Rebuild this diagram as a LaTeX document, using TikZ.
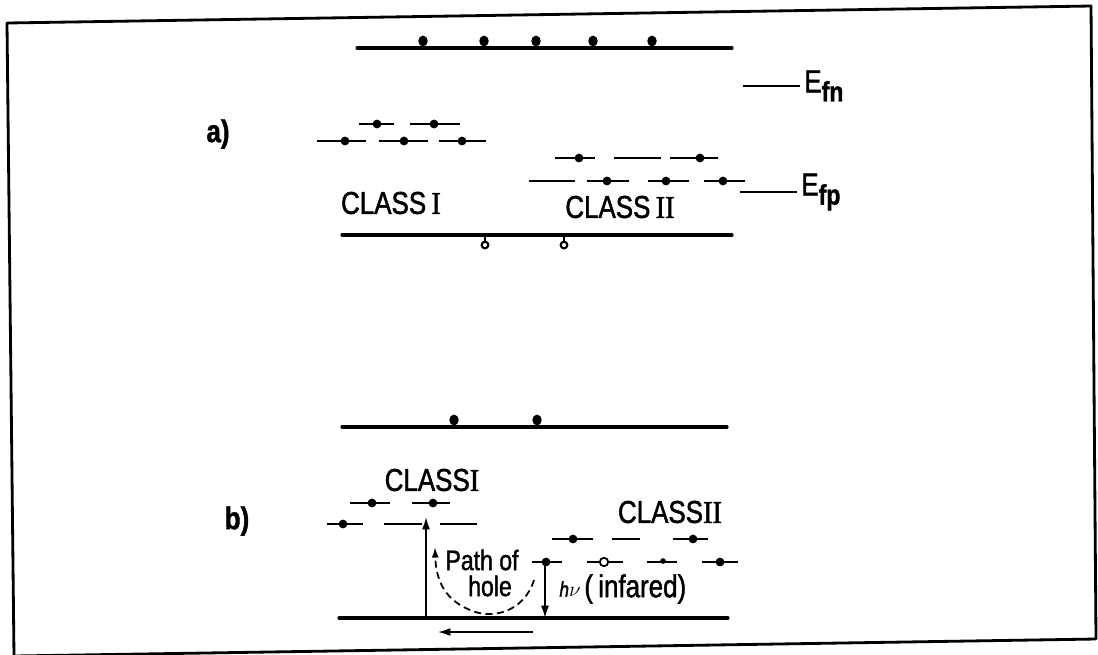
\documentclass[tikz,border=0pt]{standalone}
\usepackage{fontspec}
\setmainfont[FakeStretch=0.82, FakeBold=1.4]{Liberation Sans}
\newfontfamily\numfont[FakeStretch=0.9, FakeBold=1.4]{Liberation Serif}
\usetikzlibrary{arrows.meta}

\newcommand{\rnum}[1]{{\numfont #1}}

\begin{document}
\begin{tikzpicture}[x=0.02cm, y=-0.02cm,
  frame/.style={line width=1.6pt, line join=round},
  band/.style={line width=1.8pt, line cap=round},
  lvl/.style={line width=1.2pt},
  tick/.style={line width=1pt},
  lbl/.style={font=\fontsize{18}{20}\selectfont, inner sep=0pt},
  small/.style={font=\fontsize{16}{18}\selectfont, inner sep=0pt},
  arr/.style={line width=0.9pt, -{Latex[length=7pt, width=4.5pt]}},
  holepath/.style={line width=1pt, dash pattern=on 4pt off 2.5pt, -{Latex[length=6pt, width=4pt]}}
]
\useasboundingbox (0,0) rectangle (1098,654);

% outer frame
\draw[frame] (7,23) -- (1091,6) -- (1096,639) -- (14,656) -- cycle;

% ---------------- a) ----------------
\node[lbl, font=\fontsize{18}{20}\selectfont\bfseries] (la) at (218,134) {a)};

% conduction band with electrons
\draw[band] (357,48) -- (732,48);
\foreach \x in {423,484,536,593,652}
  \fill (\x,41) ellipse[x radius=2.7pt, y radius=3.1pt];

% Class I trap levels
\foreach \a/\b/\y in {359/394/124, 410/460/124, 317/366/141, 379/428/141, 439/486/141}
  \draw[lvl] (\a,\y) -- (\b,\y);
\foreach \x/\y in {377/124, 434/124, 345/141, 404/141, 462/141}
  \fill (\x,\y) circle[radius=2.5pt];

% Class II trap levels
\foreach \a/\b/\y in {555/595/158, 614/661/158, 670/718/158,
                      529/575/181, 587/629/181, 648/689/181, 704/745/181}
  \draw[lvl] (\a,\y) -- (\b,\y);
\foreach \x/\y in {579/158, 700/158, 607/181, 666/181, 723/181}
  \fill (\x,\y) circle[radius=2.5pt];

% quasi Fermi levels
\coordinate (fnA) at (743,86);
\coordinate (fnB) at (800,86);
\draw[tick] (fnA) -- (fnB);
\node[lbl, anchor=west] (efn) at (804,86) {E\raisebox{-0.55ex}{\fontsize{16}{16}\selectfont\bfseries fn}};
\coordinate (fpA) at (740,192);
\coordinate (fpB) at (797,192);
\draw[tick] (fpA) -- (fpB);
\node[lbl, anchor=west] (efp) at (801,192) {E\raisebox{-0.55ex}{\fontsize{16}{16}\selectfont\bfseries fp}};

\node[lbl] (c1a) at (391,203) {CLASS\,\rnum{I}};
\node[lbl] (c2a) at (620,207) {CLASS\,\rnum{II}};

% valence band with holes
\draw[band] (342,235) -- (732,235);
\foreach \x in {485,564} {
  \draw[line width=1pt] (\x,236) -- (\x,241);
  \draw[line width=1.2pt] (\x,245) circle[radius=1.9pt];
}

% ---------------- b) ----------------
\node[lbl, font=\fontsize{18}{20}\selectfont\bfseries] (lb) at (237,521) {b)};

% conduction band
\draw[band] (342,427) -- (727,427);
\foreach \x in {454,537}
  \fill (\x,420) ellipse[x radius=2.7pt, y radius=3.1pt];

\node[lbl] (c1b) at (432,480) {CLASS\rnum{I}};
\node[lbl] (c2b) at (670,512) {CLASS\rnum{II}};

% Class I trap levels
\foreach \a/\b/\y in {350/390/503, 412/450/503, 327/363/524, 384/422/524, 440/477/524}
  \draw[lvl] (\a,\y) -- (\b,\y);
\foreach \x/\y in {372/503, 433/503, 343/524}
  \fill (\x,\y) circle[radius=2.5pt];

% Class II trap levels
\foreach \a/\b/\y in {552/593/539, 612/640/539, 673/708/539,
                      532/562/562, 587/623/562, 647/677/562, 702/738/562}
  \draw[lvl] (\a,\y) -- (\b,\y);
\foreach \x/\y in {573/539, 693/539, 546/562, 720/562}
  \fill (\x,\y) circle[radius=2.5pt];
\filldraw[fill=white, line width=1pt] (604,562) circle[radius=2.4pt];
\fill (663,561) circle[radius=1.6pt];

% valence band
\draw[band] (339,618) -- (728,618);

% transitions
\coordinate (vbUp)   at (426,618);
\coordinate (trapI)  at (426,517);
\coordinate (trapII) at (545,562);
\coordinate (vbDown) at (545,618);
\draw[arr] (vbUp) -- (trapI);
\draw[arr] (trapII) -- (vbDown);

\coordinate (hs) at (534,580);
\coordinate (he) at (435,547);
\draw[holepath] (hs) .. controls (524,612) and (492,620) .. (470,610)
  .. controls (446,600) and (436,582) .. (he);

\coordinate (mvA) at (533,632);
\coordinate (mvB) at (438,632);
\draw[arr] (mvA) -- (mvB);

\node[small] (path) at (482,560) {Path of};
\node[small] (hole) at (490,586) {hole};
\node[inner sep=0pt, font=\fontsize{12}{14}\selectfont\itshape] (hnu) at (570,589) {h$\nu$};
\node[lbl, anchor=west] (ir) at (584,589) {(\,infared)};

\end{tikzpicture}
\end{document}
